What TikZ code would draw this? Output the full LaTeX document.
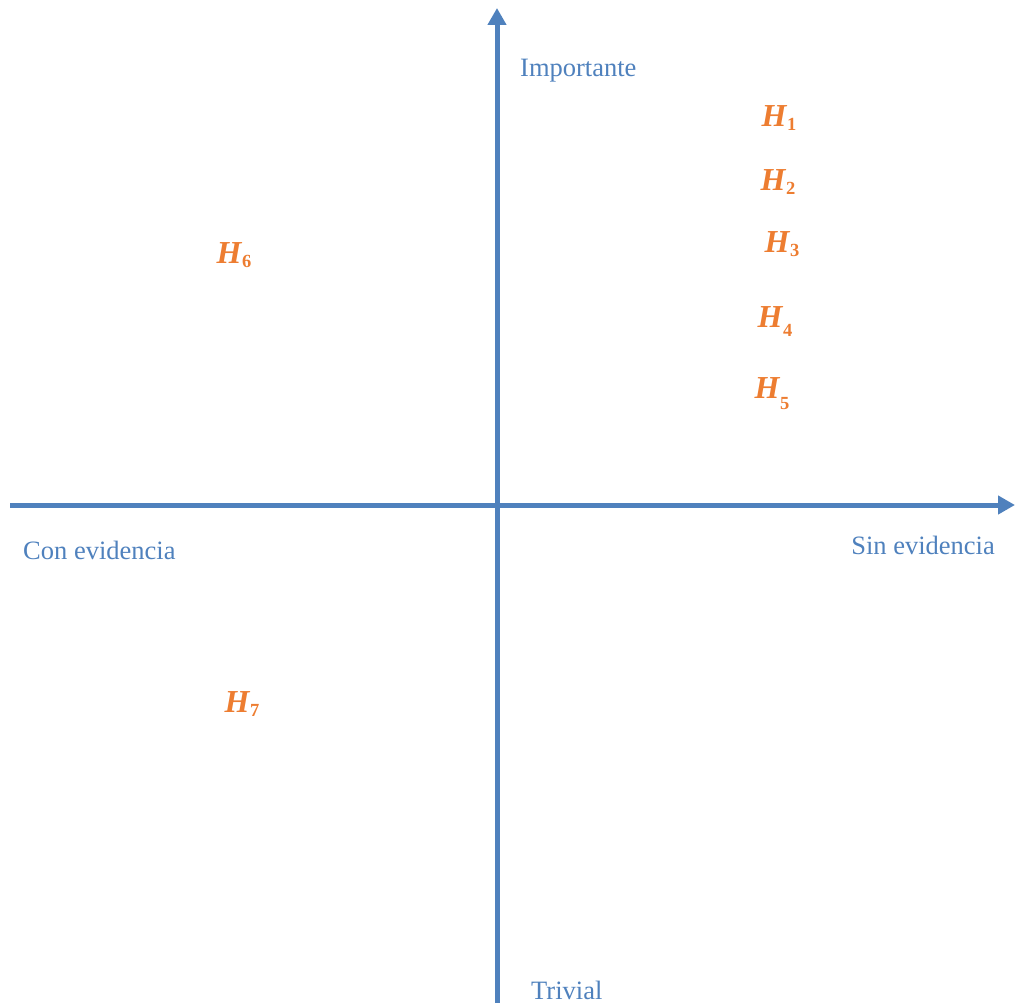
\documentclass[tikz,border=0pt]{standalone}
\usepackage{fontspec}
\setmainfont{Liberation Serif}
\usetikzlibrary{arrows.meta}
\definecolor{axisblue}{HTML}{4F81BD}
\definecolor{horange}{HTML}{ED7D31}
\tikzset{
  axis/.style={axisblue, line width=5pt, -{Triangle[width=18pt,length=17pt]}},
  axlabel/.style={text=axisblue, font=\fontsize{26.5}{30}\selectfont, inner sep=0pt},
  hyp/.style={text=horange, font=\fontsize{32}{36}\selectfont, inner sep=0pt},
}
\newcommand{\hyplab}[2]{\textbf{\textit{H}}\raisebox{#2}{\fontsize{18.5}{20}\selectfont\textbf{#1}}}
\begin{document}
\begin{tikzpicture}[x=1pt,y=-1pt]
\useasboundingbox (0,0) rectangle (1015,1003);
\coordinate (vb) at (497,1003);
\coordinate (vt) at (497,8);
\coordinate (hl) at (10,505);
\coordinate (hr) at (1015,505);
\draw[axis] (vb) -- (vt);
\draw[axis] (hl) -- (hr);
\node[axlabel, anchor=west] (imp) at (520,71) {Importante};
\node[axlabel, anchor=west] (triv) at (531,990) {Trivial};
\node[axlabel, anchor=west] (con) at (23,550) {Con evidencia};
\node[axlabel, anchor=east] (sin) at (995,545) {Sin evidencia};
\node[hyp] (h1) at (779,118) {\hyplab{1}{-4pt}};
\node[hyp] (h2) at (778,182) {\hyplab{2}{-4pt}};
\node[hyp] (h3) at (782,244) {\hyplab{3}{-4pt}};
\node[hyp] (h4) at (775,322) {\hyplab{4}{-9pt}};
\node[hyp] (h5) at (772,394) {\hyplab{5}{-11pt}};
\node[hyp] (h6) at (234,255) {\hyplab{6}{-4pt}};
\node[hyp] (h7) at (242,704) {\hyplab{7}{-4pt}};
\end{tikzpicture}
\end{document}
